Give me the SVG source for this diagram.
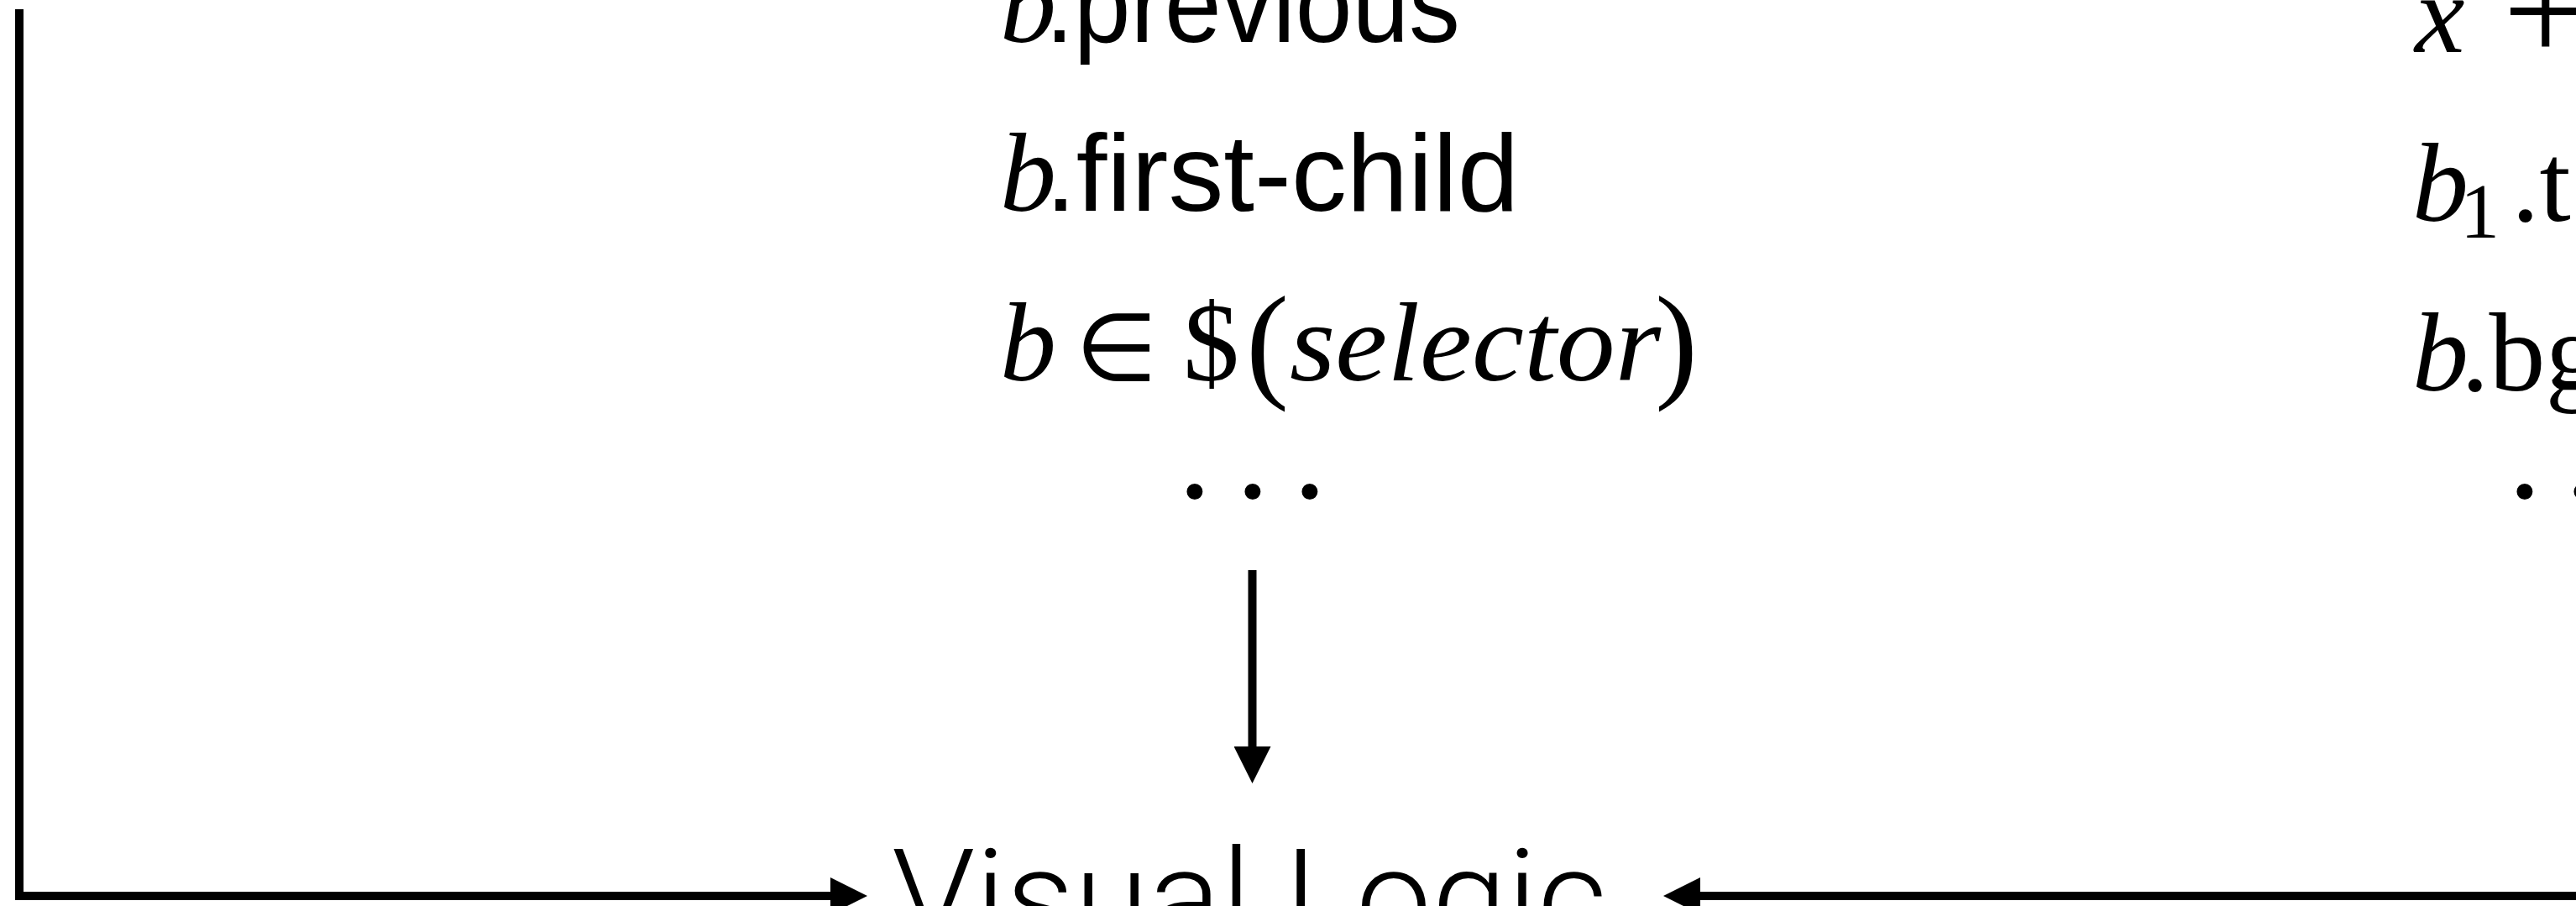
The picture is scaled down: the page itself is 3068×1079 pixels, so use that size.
<svg xmlns="http://www.w3.org/2000/svg" width="3068" height="1079" viewBox="0 0 3068 1079">
  <style>
    .mi { font-family: "Liberation Serif", "DejaVu Serif", serif; font-style: italic; font-size: 134px; fill: #000; }
    .rm { font-family: "Liberation Serif", "DejaVu Serif", serif; font-size: 134px; fill: #000; }
    .sf { font-family: "Liberation Sans", Arial, sans-serif; font-size: 130px; fill: #000; }
    .sym { font-family: "DejaVu Sans", sans-serif; font-size: 112px; fill: #000; }
    .dots { font-family: "Liberation Serif", "DejaVu Serif", serif; font-size: 160px; fill: #000; }
    .title { font-family: Roboto, "Liberation Sans", sans-serif; font-weight: 300; font-size: 156px; fill: #000; }
    .conn { fill: none; stroke: #000; stroke-width: 10; stroke-linejoin: miter; }
  </style>
  <defs>
    <marker id="arrow" viewBox="0 0 44 44" refX="0" refY="22" markerWidth="44" markerHeight="44" markerUnits="userSpaceOnUse" orient="auto">
      <path d="M0,0 L44,22 L0,44 Z" fill="#000"/>
    </marker>
  </defs>
  <rect width="3068" height="1079" fill="#fff"/>

  <g id="node-selectors">
    <text class="mi" x="1191" y="50">b</text>
    <text class="sf" x="1245" y="50" textLength="494" lengthAdjust="spacingAndGlyphs">.previous</text>
    <text class="mi" x="1191" y="251">b</text>
    <text class="sf" x="1245" y="251" textLength="564" lengthAdjust="spacingAndGlyphs">.first-child</text>
    <text class="mi" x="1191" y="453">b</text>
    <text class="sym" x="1281" y="453">∈</text>
    <text class="rm" x="1409" y="453">$</text>
    <text class="rm" x="1484" y="458" style="font-size:153px">(</text>
    <text class="mi" x="1536" y="453" textLength="442" lengthAdjust="spacingAndGlyphs">selector</text>
    <text class="rm" x="1971" y="458" style="font-size:153px">)</text>
    <text class="dots" x="1423 1492 1560" y="639" text-anchor="middle">···</text>
  </g>

  <g id="node-properties">
    <text class="mi" x="2876" y="62">x</text>
    <text class="rm" x="2981" y="73" style="font-size:180px">+</text>
    <text class="mi" x="2873" y="263">b</text>
    <text class="rm" x="2930" y="283" style="font-size:94px">1</text>
    <text class="rm" x="2991" y="263">.t</text>
    <text class="mi" x="2873" y="465">b</text>
    <text class="rm" x="2931" y="465">.bg</text>
    <text class="dots" x="3007 3075 3143" y="639" text-anchor="middle">···</text>
  </g>

  <g id="node-visual-logic">
    <text class="title" x="1062" y="1122" textLength="852" lengthAdjust="spacingAndGlyphs">Visual Logic</text>
  </g>

  <g id="connectors">
    <path class="conn" d="M23,11 V1067 H989" marker-end="url(#arrow)"/>
    <path class="conn" d="M1491.5,679 V889" marker-end="url(#arrow)"/>
    <path class="conn" d="M3080,1067 H2025" marker-end="url(#arrow)"/>
  </g>
</svg>
